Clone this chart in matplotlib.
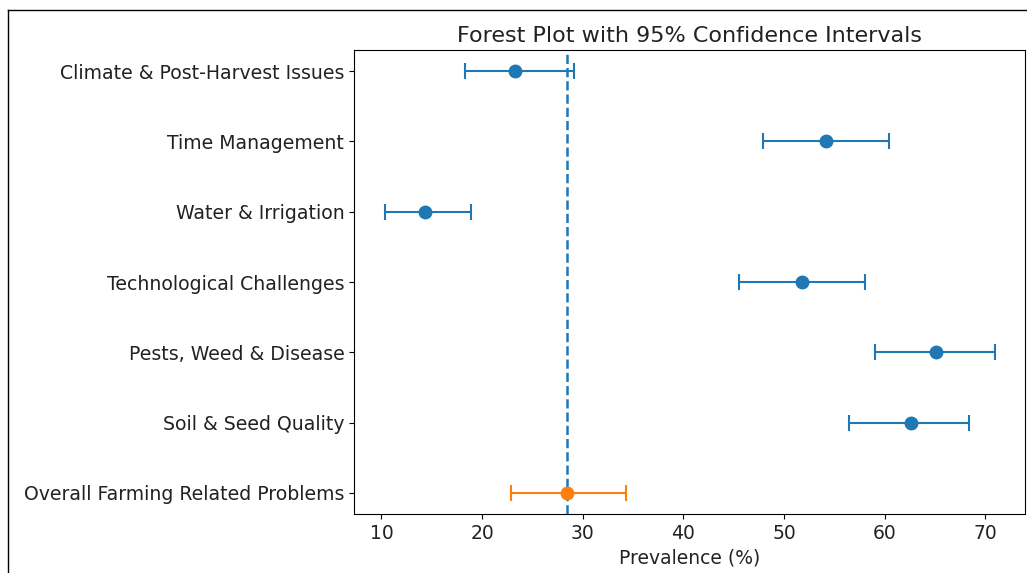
import matplotlib
matplotlib.use("Agg")
import matplotlib.pyplot as plt
from matplotlib.lines import Line2D

categories = ["Climate & Post-Harvest Issues", "Time Management", "Water & Irrigation",
              "Technological Challenges", "Pests, Weed & Disease", "Soil & Seed Quality",
              "Overall Farming Related Problems"]
prevalence = [23.3, 54.2, 14.3, 51.8, 65.1, 62.6, 28.4]
ci_lower = [18.3, 47.9, 10.3, 45.5, 59.0, 56.4, 22.9]
ci_upper = [29.1, 60.4, 18.9, 58.0, 70.9, 68.4, 34.3]
overall_ref = 28.4

fig = plt.figure(figsize=(10.27, 5.73), dpi=100)
ax = fig.add_axes([354/1027, (573-514)/573, (1025-354)/1027, (514-50)/573])

n = len(categories)
ypos = list(range(n - 1, -1, -1))
for i in range(n):
    color = "C1" if i == n - 1 else "C0"
    ax.errorbar(prevalence[i], ypos[i],
                xerr=[[prevalence[i] - ci_lower[i]], [ci_upper[i] - prevalence[i]]],
                fmt="o", color=color, capsize=6, markersize=9, elinewidth=1.5, capthick=1.5)
ax.axvline(overall_ref, color="C0", linestyle="--", linewidth=1.8)
ax.set_yticks(ypos)
ax.set_yticklabels(categories, fontsize=13.6, color="#222222")
ax.set_xticks([10, 20, 30, 40, 50, 60, 70])
ax.tick_params(axis="x", labelsize=13.5, labelcolor="#222222")
ax.set_xlabel("Prevalence (%)", fontsize=13.5, color="#222222")
ax.set_title("Forest Plot with 95% Confidence Intervals", fontsize=16, color="#222222")

fig.add_artist(Line2D([8/1027, 8/1027], [0, 1 - 10/573], transform=fig.transFigure, color="black", linewidth=1))
fig.add_artist(Line2D([8/1027, 1], [1 - 10/573, 1 - 10/573], transform=fig.transFigure, color="black", linewidth=1))

fig.savefig("out.png", dpi=100)
